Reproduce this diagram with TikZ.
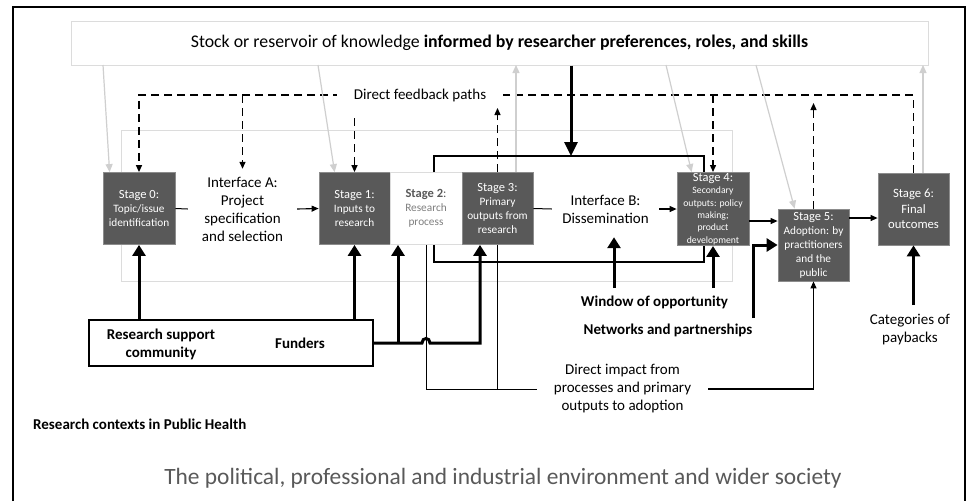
\documentclass[tikz,border=0pt]{standalone}
\usepackage{fontspec}
\setmainfont{Carlito}
\usetikzlibrary{arrows.meta}
\definecolor{stagegray}{HTML}{595959}
\definecolor{stageborder}{HTML}{8C8C8C}
\definecolor{lightline}{HTML}{CFCFCF}
\definecolor{boxline}{HTML}{DCDCDC}
\definecolor{softtext}{HTML}{7F7F7F}
\newcommand\stagelbl[1]{{\fontsize{12.5}{15}\selectfont #1}}
\begin{document}
\begin{tikzpicture}[x=1pt,y=-1pt,
  stagebox/.style={draw=stageborder, fill=stagegray, text=white, line width=0.8pt,
    minimum width=72pt, minimum height=72pt, inner sep=1pt, align=center,
    font=\fontsize{11.3}{14}\selectfont},
  lbl/.style={align=center, inner sep=0pt, font=\fontsize{15}{18}\selectfont},
  bl/.style={align=center, inner sep=0pt, font=\bfseries\fontsize{15}{18}\selectfont},
  thinline/.style={line width=1pt},
  thinarrow/.style={line width=1.1pt, -{Triangle[length=7pt,width=6pt]}},
  dasharrow/.style={line width=1.3pt, dash pattern=on 8pt off 5pt, -{Triangle[length=7pt,width=6pt]}},
  grayarrow/.style={draw=lightline, line width=1.2pt, -{Triangle[length=8pt,width=7pt]}},
  thickarrow/.style={line width=3pt, -{Triangle[length=11pt,width=13pt]}},
  bigarrow/.style={line width=3pt, -{Triangle[length=14pt,width=13pt]}},
  loopline/.style={line width=2.4pt},
]
\useasboundingbox (0,0) rectangle (971,501);
\fill[white] (0,0) rectangle (971,501);
% outer frame
\draw[line width=1.3pt] (13,501) -- (13,7) -- (965,7) -- (965,501);
% inner light frame
\draw[draw=boxline, line width=1pt] (121,130) rectangle (732,281);

% knowledge box
\node[draw=boxline, line width=1pt, minimum width=857pt, minimum height=44pt,
  font=\fontsize{17.8}{21}\selectfont] (kb) at (499.5,43)
  {Stock or reservoir of knowledge \textbf{informed by researcher preferences, roles, and skills}};

% stages
\node[stagebox] (s0) at (139,208.5) {\stagelbl{Stage 0:}\\Topic/issue\\identification};
\node[stagebox, minimum width=71pt] (s1) at (354.5,208.5) {\stagelbl{Stage 1:}\\Inputs to\\research};
\node[stagebox, fill=white, draw=boxline, text=softtext] (s2) at (426,208.5)
  {\stagelbl{\textcolor{stagegray}{\textbf{Stage 2}:}}\\Research\\process};
\node[stagebox, minimum width=71pt] (s3) at (497.5,208.5) {\stagelbl{Stage 3:}\\Primary\\outputs from\\research};
\node[stagebox, font=\fontsize{9.7}{12.3}\selectfont] (s4) at (713,209)
  {\stagelbl{Stage 4:}\\Secondary\\outputs: policy\\making;\\product\\development};
\node[stagebox, minimum width=71pt] (s5) at (813.5,245)
  {\stagelbl{Stage 5:}\\Adoption: by\\practitioners\\and the\\public};
\node[stagebox, minimum width=71pt, font=\fontsize{12.7}{15.5}\selectfont] (s6) at (913.5,209)
  {Stage 6:\\Final\\outcomes};

% interfaces
\node[lbl, minimum width=109pt, minimum height=80pt] (ia) at (242.5,209)
  {Interface A:\\Project\\specification\\and selection};
\node[lbl, minimum width=107pt, minimum height=56pt] (ib) at (605.5,209)
  {Interface B:\\Dissemination};

% main flow
\draw[thinline] (s0.east) -- (ia.west);
\draw[thinarrow] (ia.east) -- (s1.west);
\draw[thinline] (s3.east) -- (ib.west);
\draw[thinarrow] (ib.east) -- (s4.west);
\coordinate (a45) at ([yshift=-12pt]s4.east);
\draw[thinarrow] (a45) -- (a45 -| s5.west);
\coordinate (a56) at ([yshift=27pt]s5.east);
\draw[thinarrow] (a56) -- (a56 -| s6.west);

% feedback paths
\coordinate (fbl) at (0,95);
\draw[dasharrow] (s6.north) -- (s6.north |- fbl) -- (s0.north |- fbl) -- (s0.north);
\node[lbl, fill=white, inner xsep=17pt, inner ysep=2pt] (fb) at (420,95) {Direct feedback paths};
\draw[dasharrow] (ia.north |- fbl) -- (ia.north);
\draw[dasharrow] (s4.north |- fbl) -- (s4.north);
\coordinate (d1) at (355,118);
\draw[dasharrow] (s1.north |- d1) -- (s1.north);
\coordinate (d3) at (0,108);
\draw[dasharrow] (s3.north) -- (s3.north |- d3);
\coordinate (d5) at (0,103);
\draw[dasharrow] (s5.north) -- (s5.north |- d5);

% gray links with knowledge box
\coordinate (g0) at (103,65);
\draw[grayarrow] (g0) -- ([xshift=7pt]s0.north west);
\coordinate (g1) at (318,65);
\draw[grayarrow] (g1) -- ([xshift=16pt]s1.north west);
\coordinate (g3) at (516,65);
\draw[grayarrow] (g3 |- s3.north) -- (g3);
\coordinate (g4) at (666,65);
\draw[grayarrow] (g4) -- ([xshift=15pt]s4.north west);
\coordinate (g5) at (756,65);
\draw[grayarrow] (g5) -- ([xshift=17pt]s5.north west);
\coordinate (g6) at (923,65);
\draw[grayarrow] (g6 |- s6.north) -- (g6);

% loop around dissemination
\coordinate (la) at (434,156);
\coordinate (lb) at (704,156);
\coordinate (lc) at (434,262);
\coordinate (ld) at (704,262);
\draw[loopline] (la |- s2.north) -- (la) -- (lb) -- (lb |- s4.north);
\draw[loopline] (lc |- s2.south) -- (lc) -- (ld) -- (ld |- s4.south);
\coordinate (kd) at (571,156);
\draw[bigarrow] (kd |- kb.south) -- (kd);

% research support community / funders
\node[draw, line width=2pt, minimum width=284pt, minimum height=46pt] (rs) at (231,343) {};
\node[bl] (rsc) at (161,344) {Research support\\community};
\node[bl] (fun) at (300,343) {Funders};
\draw[thickarrow] (rs.north -| s0.south) -- (s0.south);
\draw[thickarrow] (rs.north -| s1.south) -- (s1.south);
\coordinate (f2) at (398,343);
\coordinate (hop) at (426,343);
\coordinate (f3) at (480,343);
\draw[thickarrow] (f2) -- (f2 |- s2.south);
\draw[thickarrow] (rs.east) -- ([xshift=-4pt]hop) .. controls +(0,-6) and +(0,-6) .. ([xshift=4pt]hop) -- (f3) -- (f3 |- s3.south);

% direct impact
\node[lbl, minimum width=171pt] (di) at (622.5,389)
  {Direct impact from\\processes and primary\\outputs to adoption};
\draw[thinline] (s2.south) |- (di.west);
\draw[thinline] (s3.south) -- (s3.south |- di.west);
\draw[thinarrow] (di.east) -| (s5.south);

% window / networks
\node[bl] (wo) at (654.5,302) {Window of opportunity};
\node[bl] (np) at (668,330) {Networks and partnerships};
\coordinate (w1) at (614,288);
\draw[thickarrow] (w1) -- (w1 |- ib.south);
\draw[thickarrow] (s4.south |- w1) -- (s4.south);
\coordinate (nw) at (753,318);
\draw[thickarrow] (nw) |- (s5.west);

% paybacks
\node[lbl] (pb) at (910,330) {Categories of\\paybacks};
\coordinate (pw) at (0,305);
\draw[thickarrow] (s6.south |- pw) -- (s6.south);

% contexts
\node[anchor=west, inner sep=0pt, font=\bfseries\fontsize{15}{18}\selectfont] (rc) at (33,424)
  {Research contexts in Public Health};
\node[inner sep=0pt, text=stagegray, font=\fontsize{23.4}{28}\selectfont] (pol) at (503,478)
  {The political, professional and industrial environment and wider society};
\end{tikzpicture}
\end{document}
